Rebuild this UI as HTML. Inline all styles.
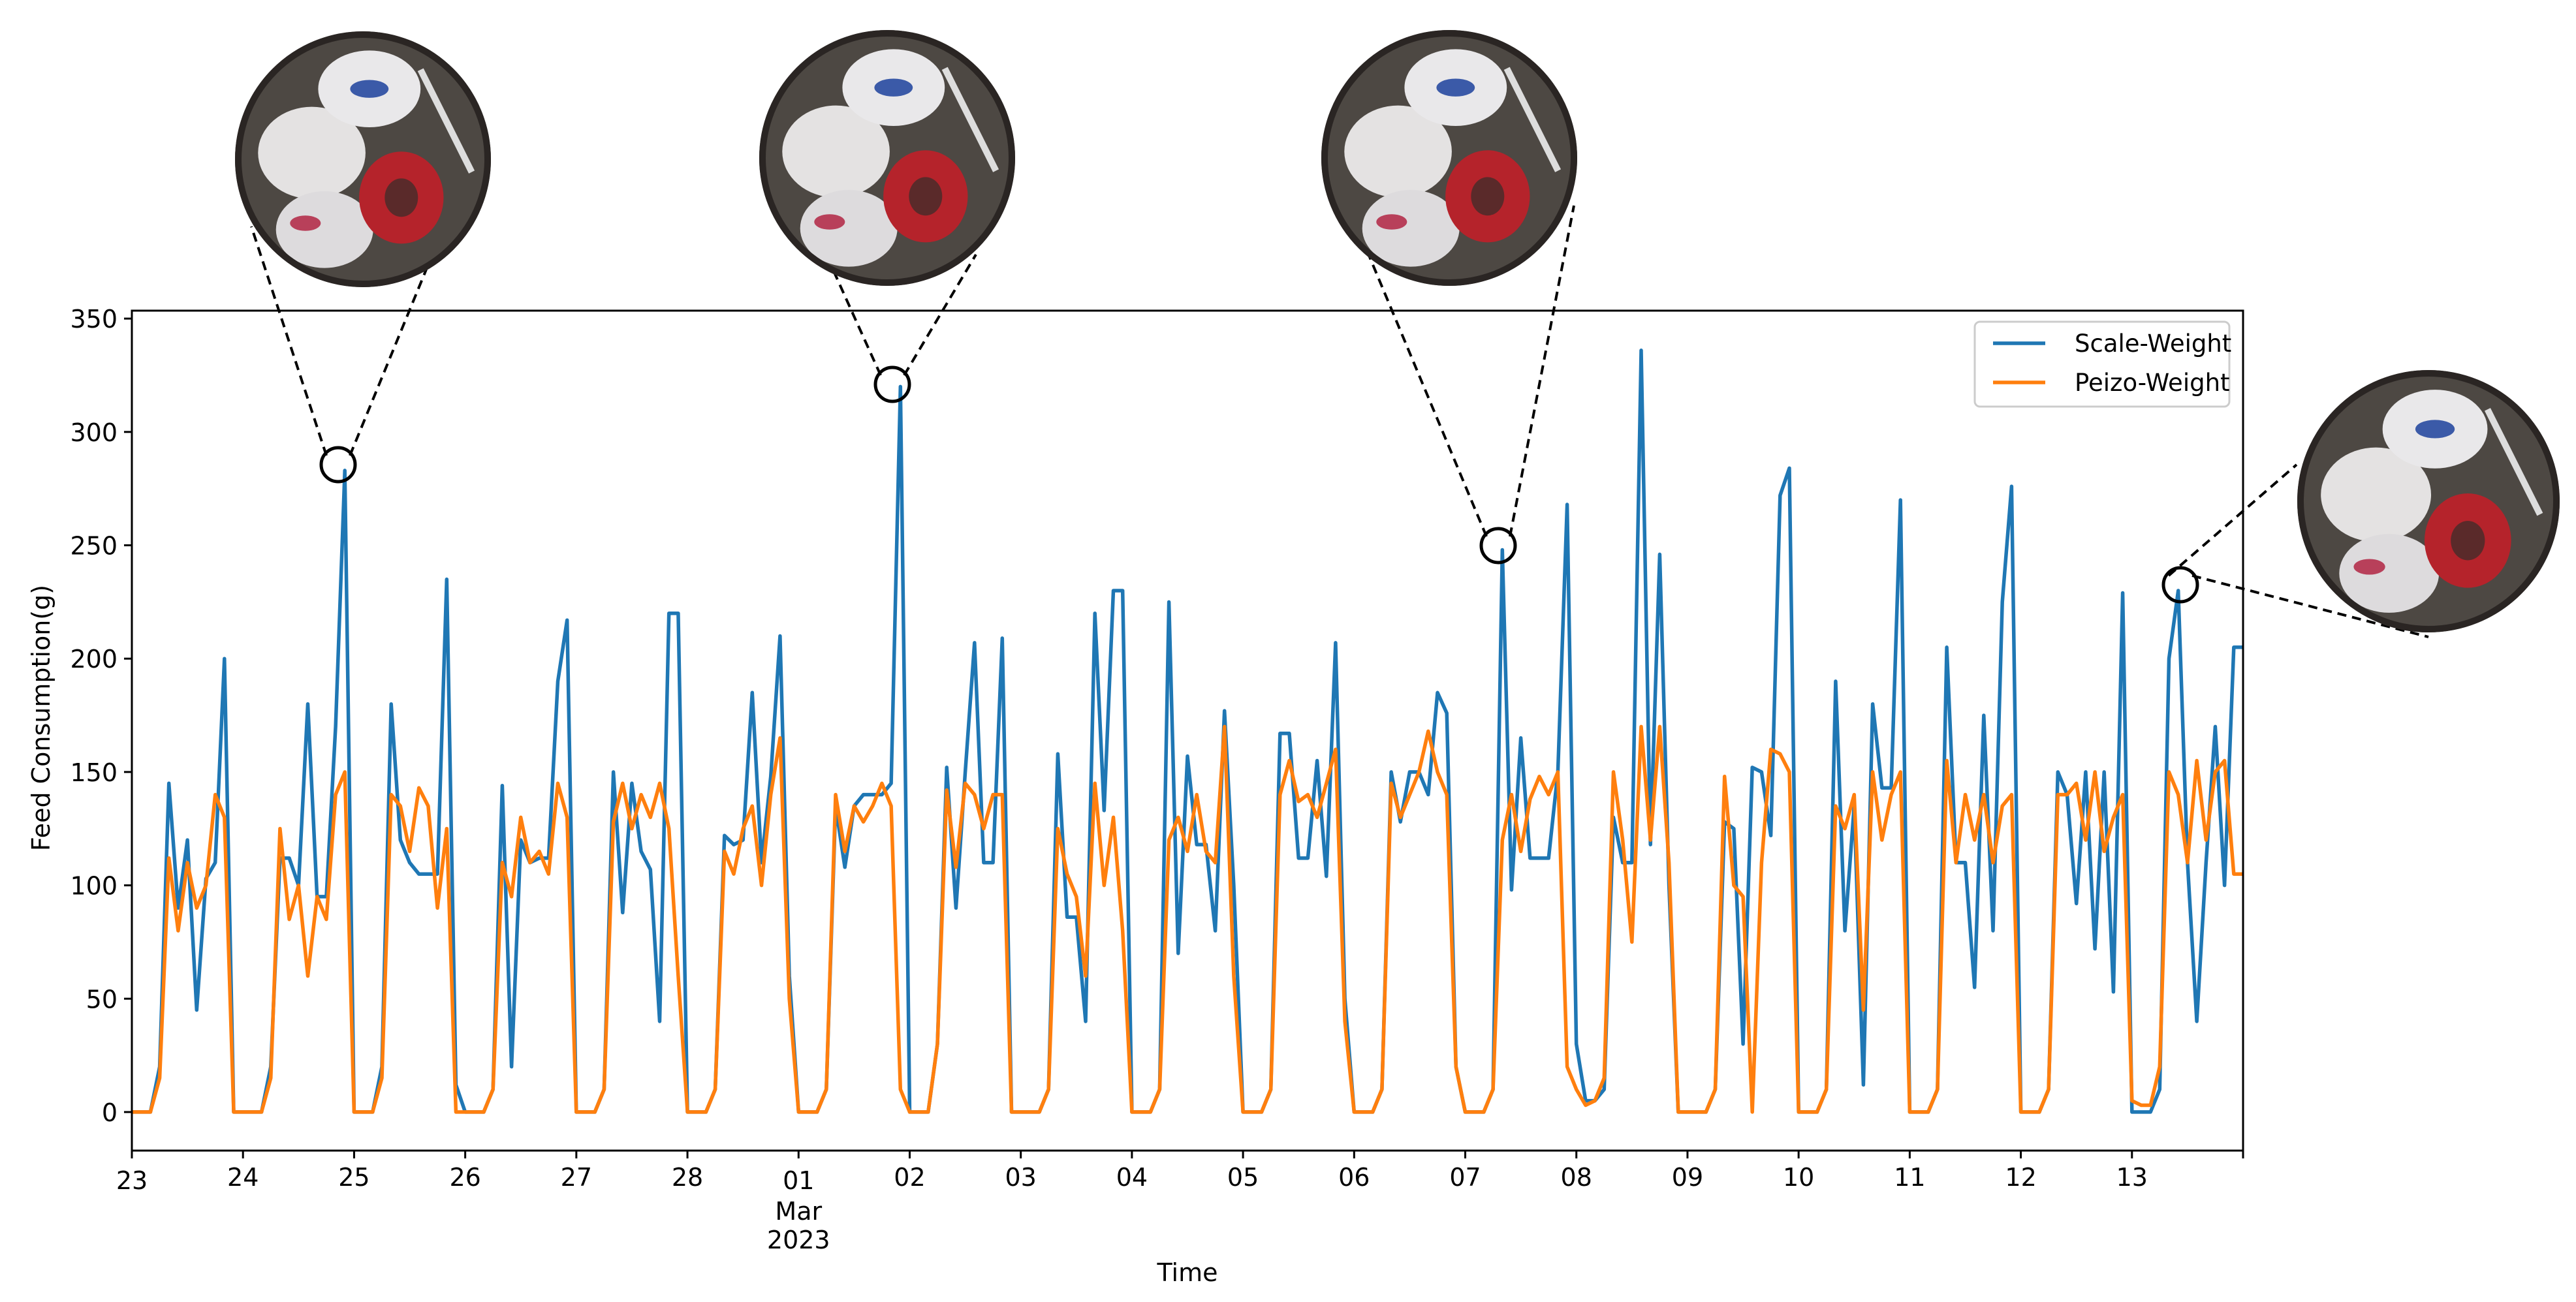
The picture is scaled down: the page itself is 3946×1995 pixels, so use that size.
<!DOCTYPE html>
<html><head><meta charset="utf-8"><style>
html,body{margin:0;padding:0;background:#fff}
svg text{font-family:"DejaVu Sans","Liberation Sans",sans-serif;fill:#000}
</style></head><body>
<svg id="chart" width="3946" height="1990" viewBox="0 0 3946 1990" xmlns="http://www.w3.org/2000/svg">
<defs>
<clipPath id="plotclip"><rect x="202" y="476" width="3234" height="1287"/></clipPath>
</defs>
<rect width="3946" height="1990" fill="#fff"/>
<g id="series" clip-path="url(#plotclip)"></g>
<g id="axes"></g>
<g id="insets"></g>
</svg>
<script>
// ---- data ----
const dayLabels = ["23","24","25","26","27","28","01","02","03","04","05","06","07","08","09","10","11","12","13",""];
const sampleHours = [0,2,4,6,8,10,12,14,16,18,20,22];
const yTicks = [0,50,100,150,200,250,300,350];
const scaleWeight = [
 0,0,0,20,145,90,120,45,103,110,200,0,
 0,0,0,20,112,112,100,180,95,95,170,283,
 0,0,0,20,180,120,110,105,105,105,235,12,
 0,0,0,10,144,20,120,110,112,112,190,217,
 0,0,0,10,150,88,145,115,107,40,220,220,
 0,0,0,10,122,118,120,185,110,148,210,60,
 0,0,0,10,135,108,135,140,140,140,145,320,
 0,0,0,30,152,90,150,207,110,110,209,0,
 0,0,0,10,158,86,86,40,220,133,230,230,
 0,0,0,10,225,70,157,118,118,80,177,100,
 0,0,0,10,167,167,112,112,155,104,207,50,
 0,0,0,10,150,128,150,150,140,185,176,20,
 0,0,0,10,248,98,165,112,112,112,150,268,
 30,5,5,10,130,110,110,336,118,246,100,0,
 0,0,0,10,128,125,30,152,150,122,272,284,
 0,0,0,10,190,80,135,12,180,143,143,270,
 0,0,0,10,205,110,110,55,175,80,225,276,
 0,0,0,10,150,140,92,150,72,150,53,229,
 0,0,0,10,200,230,110,40,110,170,100,205,
 205
];
const peizoWeight = [
 0,0,0,15,112,80,110,90,100,140,130,0,
 0,0,0,15,125,85,100,60,95,85,140,150,
 0,0,0,15,140,135,115,143,135,90,125,0,
 0,0,0,10,110,95,130,110,115,105,145,130,
 0,0,0,10,128,145,125,140,130,145,125,60,
 0,0,0,10,115,105,125,135,100,140,165,50,
 0,0,0,10,140,115,135,128,135,145,135,10,
 0,0,0,30,142,108,145,140,125,140,140,0,
 0,0,0,10,125,105,95,60,145,100,130,80,
 0,0,0,10,120,130,115,140,115,110,170,60,
 0,0,0,10,140,155,137,140,130,145,160,40,
 0,0,0,10,145,130,140,150,168,150,140,20,
 0,0,0,10,120,140,115,138,148,140,150,20,
 10,3,5,15,150,120,75,170,120,170,110,0,
 0,0,0,10,148,100,95,0,110,160,158,150,
 0,0,0,10,135,125,140,45,150,120,140,150,
 0,0,0,10,155,110,140,120,140,110,135,140,
 0,0,0,10,140,140,145,120,150,115,130,140,
 5,3,3,20,150,140,110,155,120,150,155,105,
 105
];
// ---- scales ----
const X0=202, X1=3436, Y0=1763, Y1=476, DAYS=19, YMIN=-17, YMAX=353.5;
function xs(d){return X0+(d/DAYS)*(X1-X0);}
function ys(v){return Y0-(v-YMIN)/(YMAX-YMIN)*(Y0-Y1);}
const NS="http://www.w3.org/2000/svg";
function mk(tag,attrs,parent){const e=document.createElementNS(NS,tag);for(const k in attrs)e.setAttribute(k,attrs[k]);parent.appendChild(e);return e;}
function timeOf(i){return i<DAYS*sampleHours.length ? Math.floor(i/sampleHours.length)+sampleHours[i%sampleHours.length]/24 : DAYS;}
const series=document.getElementById('series');
function drawLine(vals,color,name){
  const pts=vals.map((v,i)=>xs(timeOf(i)).toFixed(1)+","+ys(v).toFixed(1)).join(" ");
  const pl=mk('polyline',{points:pts,fill:"none",stroke:color,"stroke-width":5.5,"stroke-linejoin":"round"},series);
  
  
}
drawLine(scaleWeight,"#1f77b4","scale-weight-line");
drawLine(peizoWeight,"#ff7f0e","peizo-weight-line");
// ---- axes ----
const axes=document.getElementById('axes');
const frame=mk('rect',{x:X0,y:Y1,width:X1-X0,height:Y0-Y1,fill:"none",stroke:"#000","stroke-width":3},axes);


yTicks.forEach(v=>{
  const y=ys(v);
  mk('line',{x1:X0-12,x2:X0,y1:y,y2:y,stroke:"#000","stroke-width":3},axes);
  const t=mk('text',{x:X0-22,y:y+14,"font-size":38,"text-anchor":"end"},axes);
  t.textContent=v;
  
  
});
dayLabels.forEach((lab,i)=>{
  const x=xs(i);
  mk('line',{x1:x,x2:x,y1:Y0,y2:Y0+12,stroke:"#000","stroke-width":3},axes);
  if(lab){
    const t=mk('text',{x:x,y:(i===0||i===6)?1822:1817,"font-size":38,"text-anchor":"middle"},axes);
    t.textContent=lab;
    
    
  }
});
const m1=mk('text',{x:xs(6),y:1869,"font-size":38,"text-anchor":"middle"},axes);m1.textContent="Mar";


const m2=mk('text',{x:xs(6),y:1913,"font-size":38,"text-anchor":"middle"},axes);m2.textContent="2023";


const xt=mk('text',{x:(X0+X1)/2,y:1963,"font-size":38,"text-anchor":"middle"},axes);xt.textContent="Time";


const yt=mk('text',{x:0,y:0,"font-size":38,"text-anchor":"middle",transform:"translate(76,1100) rotate(-90)"},axes);yt.textContent="Feed Consumption(g)";


// legend
const lg=mk('g',{},axes);


mk('rect',{x:3025,y:493,width:390,height:130,rx:8,fill:"#fff",stroke:"#ccc","stroke-width":3},lg);
mk('line',{x1:3053,x2:3133,y1:526,y2:526,stroke:"#1f77b4","stroke-width":5.5},lg);
mk('line',{x1:3053,x2:3133,y1:586,y2:586,stroke:"#ff7f0e","stroke-width":5.5},lg);
const l1=mk('text',{x:3178,y:539,"font-size":37},lg);l1.textContent="Scale-Weight";


const l2=mk('text',{x:3178,y:599,"font-size":37},lg);l2.textContent="Peizo-Weight";


// ---- insets ----
const ins=document.getElementById('insets');
const insets=[
 {m:[518,712],c:[556,244],r:196,a:[385,347],b:[680,347]},
 {m:[1367,589],c:[1359,242],r:196,a:[1243,340],b:[1495,390]},
 {m:[2295,836],c:[2220,242],r:196,a:[2091,377],b:[2411,315]},
 {m:[3340,896],c:[3720,768],r:201,a:[3518,712],b:[3720,976]}
];
insets.forEach((s,k)=>{
  const g=mk('g',{},ins);
  
  
  mk('line',{x1:s.m[0]-18,y1:s.m[1]-14,x2:s.a[0],y2:s.a[1],stroke:"#000","stroke-width":4,"stroke-dasharray":"14,9"},g);
  mk('line',{x1:s.m[0]+18,y1:s.m[1]-14,x2:s.b[0],y2:s.b[1],stroke:"#000","stroke-width":4,"stroke-dasharray":"14,9"},g);
  mk('circle',{cx:s.m[0],cy:s.m[1],r:26,fill:"none",stroke:"#000","stroke-width":5},g);
  const cx=s.c[0],cy=s.c[1],r=s.r;
  mk('circle',{cx:cx,cy:cy,r:r,fill:"#4d4843"},g);
  mk('ellipse',{cx:cx-r*0.4,cy:cy-r*0.05,rx:r*0.42,ry:r*0.36,fill:"#e4e2e2"},g);
  mk('ellipse',{cx:cx+r*0.05,cy:cy-r*0.55,rx:r*0.4,ry:r*0.3,fill:"#e9e8ea"},g);
  mk('ellipse',{cx:cx-r*0.3,cy:cy+r*0.55,rx:r*0.38,ry:r*0.3,fill:"#dddbdd"},g);
  mk('ellipse',{cx:cx+r*0.3,cy:cy+r*0.3,rx:r*0.33,ry:r*0.36,fill:"#b5232b"},g);
  mk('ellipse',{cx:cx+r*0.3,cy:cy+r*0.3,rx:r*0.13,ry:r*0.15,fill:"#5a2a2a"},g);
  mk('ellipse',{cx:cx+r*0.05,cy:cy-r*0.55,rx:r*0.15,ry:r*0.07,fill:"#3b5aa8"},g);
  mk('ellipse',{cx:cx-r*0.45,cy:cy+r*0.5,rx:r*0.12,ry:r*0.06,fill:"#b8405a"},g);
  mk('line',{x1:cx+r*0.45,y1:cy-r*0.7,x2:cx+r*0.85,y2:cy+r*0.1,stroke:"#ddd","stroke-width":10},g);
  mk('circle',{cx:cx,cy:cy,r:r-5,fill:"none",stroke:"#2a2523","stroke-width":10},g);
});
</script>
</body></html>
